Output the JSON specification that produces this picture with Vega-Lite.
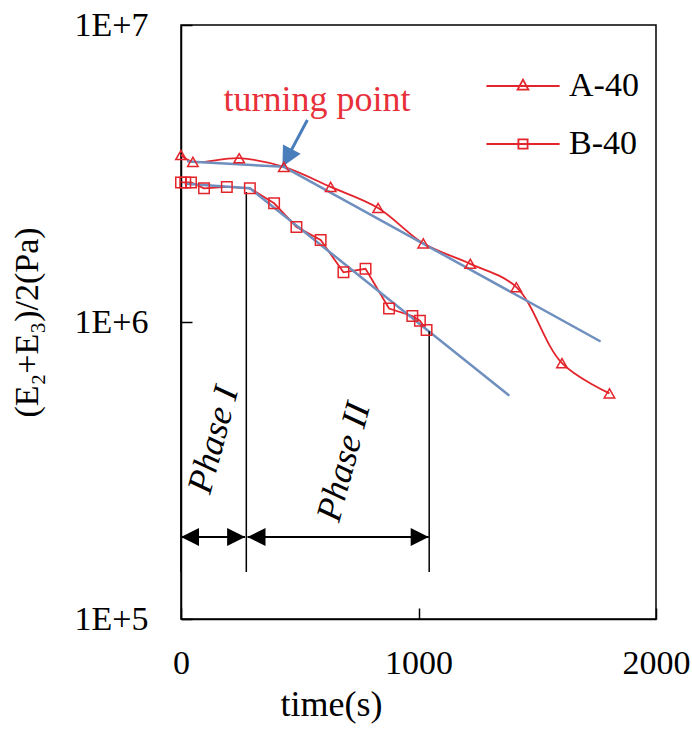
{
  "$schema": "https://vega.github.io/schema/vega-lite/v6.json",
  "width": 475,
  "height": 594,
  "autosize": {"type": "none"},
  "padding": {"left": 181, "top": 25, "right": 36, "bottom": 113},
  "background": "white",
  "config": {
    "view": {"stroke": "black", "strokeWidth": 1.5},
    "font": "Liberation Serif"
  },
  "datasets": {
    "A": [
      {"t": 0, "v": 3650000}, {"t": 50, "v": 3460000}, {"t": 245, "v": 3560000},
      {"t": 433, "v": 3330000}, {"t": 630, "v": 2850000}, {"t": 830, "v": 2420000},
      {"t": 1020, "v": 1840000}, {"t": 1218, "v": 1570000}, {"t": 1412, "v": 1310000},
      {"t": 1604, "v": 727000}, {"t": 1804, "v": 575000}
    ],
    "B": [
      {"t": 0, "v": 2950000}, {"t": 18, "v": 2950000}, {"t": 42, "v": 2950000},
      {"t": 97, "v": 2820000}, {"t": 193, "v": 2850000}, {"t": 290, "v": 2820000},
      {"t": 392, "v": 2510000}, {"t": 486, "v": 2090000}, {"t": 588, "v": 1890000},
      {"t": 684, "v": 1470000}, {"t": 777, "v": 1510000}, {"t": 876, "v": 1110000},
      {"t": 974, "v": 1048000}, {"t": 1006, "v": 1010000}, {"t": 1034, "v": 940000}
    ],
    "trend": [
      {"x1": 30, "y1": 3470000, "x2": 433, "y2": 3330000},
      {"x1": 433, "y1": 3330000, "x2": 1763, "y2": 863000},
      {"x1": 20, "y1": 2920000, "x2": 290, "y2": 2820000},
      {"x1": 290, "y1": 2820000, "x2": 1379, "y2": 568000}
    ],
    "vlines": [
      {"x1": 0, "y1": 144000, "y2": 2950000},
      {"x1": 275, "y1": 144000, "y2": 2740000},
      {"x1": 1045, "y1": 144000, "y2": 930000}
    ],
    "harrows": [
      {"x1": 0, "x2": 270, "y1": 189000},
      {"x1": 280, "x2": 1043, "y1": 189000}
    ],
    "heads": [
      {"t": 0, "v": 189000, "dir": "left"},
      {"t": 270, "v": 189000, "dir": "right"},
      {"t": 280, "v": 189000, "dir": "left"},
      {"t": 1043, "v": 189000, "dir": "right"}
    ],
    "bluearrow": [
      {"x1": 532, "y1": 4786000, "x2": 427, "y2": 3330000}
    ],
    "turning": [
      {"t": 573, "v": 5130000, "label": "turning point"}
    ],
    "phases": [
      {"t": 137, "v": 401000, "label": "Phase I"},
      {"t": 686, "v": 338000, "label": "Phase II"}
    ],
    "legendrows": [
      {"series": "A-40"}, {"series": "B-40"}
    ]
  },
  "layer": [
    {
      "data": {"name": "A"},
      "mark": {"type": "line", "color": "#e3242b", "strokeWidth": 1.8, "interpolate": "catmull-rom"},
      "encoding": {
        "x": {
          "field": "t", "type": "quantitative", "title": "time(s)",
          "scale": {"domain": [0, 2000], "nice": false, "zero": false},
          "axis": {
            "values": [0, 1000, 2000], "format": "d", "grid": false,
            "tickSize": -11, "tickColor": "black", "tickWidth": 1.5,
            "domainColor": "black", "domainWidth": 1.5,
            "labelFont": "Liberation Serif", "labelFontSize": 34, "labelColor": "black",
            "labelPadding": 38, "labelFlush": false, "labelOverlap": false,
            "titleFont": "Liberation Serif", "titleFontSize": 36, "titleFontWeight": "normal",
            "titleColor": "black", "titleX": 150, "titleY": 96, "titleBaseline": "alphabetic"
          }
        },
        "y": {
          "field": "v", "type": "quantitative", "title": "(E₂+E₃)/2(Pa)",
          "scale": {"type": "log", "domain": [100000, 10000000], "nice": false},
          "axis": {
            "values": [100000, 1000000, 10000000],
            "labelExpr": "'1E+' + round(log(datum.value)/LN10)", "grid": false,
            "tickSize": -11, "tickColor": "black", "tickWidth": 1.5,
            "domainColor": "black", "domainWidth": 1.5,
            "labelFont": "Liberation Serif", "labelFontSize": 34, "labelColor": "black",
            "labelPadding": 44, "labelBaseline": "middle", "labelOverlap": false,
            "titleFont": "Liberation Serif", "titleFontSize": 34, "titleFontWeight": "normal",
            "titleColor": "black", "titleX": -154, "titleY": 297, "titleAngle": -90,
            "titleBaseline": "middle", "titleAlign": "center"
          }
        }
      }
    },
    {
      "data": {"name": "B"},
      "mark": {"type": "line", "color": "#e3242b", "strokeWidth": 1.8},
      "encoding": {
        "x": {"field": "t", "type": "quantitative", "title": "time(s)"},
        "y": {"field": "v", "type": "quantitative", "title": "(E₂+E₃)/2(Pa)"}
      }
    },
    {
      "data": {"name": "trend"},
      "mark": {"type": "rule", "color": "#6f8fbf", "strokeWidth": 2.5, "strokeCap": "round"},
      "encoding": {
        "x": {"field": "x1", "type": "quantitative", "title": "time(s)"},
        "x2": {"field": "x2"},
        "y": {"field": "y1", "type": "quantitative", "title": "(E₂+E₃)/2(Pa)"},
        "y2": {"field": "y2"}
      }
    },
    {
      "data": {"name": "vlines"},
      "mark": {"type": "rule", "color": "black", "strokeWidth": 1.5},
      "encoding": {
        "x": {"field": "x1", "type": "quantitative", "title": "time(s)"},
        "y": {"field": "y1", "type": "quantitative", "title": "(E₂+E₃)/2(Pa)"},
        "y2": {"field": "y2"}
      }
    },
    {
      "data": {"name": "harrows"},
      "mark": {"type": "rule", "color": "black", "strokeWidth": 2},
      "encoding": {
        "x": {"field": "x1", "type": "quantitative", "title": "time(s)"},
        "x2": {"field": "x2"},
        "y": {"field": "y1", "type": "quantitative", "title": "(E₂+E₃)/2(Pa)"}
      }
    },
    {
      "data": {"name": "heads"},
      "transform": [{"filter": "datum.dir == 'left'"}],
      "mark": {"type": "point", "shape": "M0,0L2,-1L2,1Z", "filled": true, "color": "black", "size": 324, "opacity": 1},
      "encoding": {
        "x": {"field": "t", "type": "quantitative", "title": "time(s)"},
        "y": {"field": "v", "type": "quantitative", "title": "(E₂+E₃)/2(Pa)"}
      }
    },
    {
      "data": {"name": "heads"},
      "transform": [{"filter": "datum.dir == 'right'"}],
      "mark": {"type": "point", "shape": "M0,0L-2,-1L-2,1Z", "filled": true, "color": "black", "size": 324, "opacity": 1},
      "encoding": {
        "x": {"field": "t", "type": "quantitative", "title": "time(s)"},
        "y": {"field": "v", "type": "quantitative", "title": "(E₂+E₃)/2(Pa)"}
      }
    },
    {
      "data": {"name": "bluearrow"},
      "mark": {"type": "rule", "color": "#4a7dbb", "strokeWidth": 3},
      "encoding": {
        "x": {"field": "x1", "type": "quantitative", "title": "time(s)"},
        "x2": {"field": "x2"},
        "y": {"field": "y1", "type": "quantitative", "title": "(E₂+E₃)/2(Pa)"},
        "y2": {"field": "y2"}
      }
    },
    {
      "data": {"name": "bluearrow"},
      "mark": {"type": "point", "shape": "M0,0L-2,-1L-2,1Z", "filled": true, "color": "#4a7dbb", "size": 400, "angle": 118, "opacity": 1},
      "encoding": {
        "x": {"field": "x2", "type": "quantitative", "title": "time(s)"},
        "y": {"field": "y2", "type": "quantitative", "title": "(E₂+E₃)/2(Pa)"}
      }
    },
    {
      "data": {"name": "turning"},
      "mark": {"type": "text", "font": "Liberation Serif", "fontSize": 36, "color": "#e8303a", "align": "center", "baseline": "alphabetic"},
      "encoding": {
        "x": {"field": "t", "type": "quantitative", "title": "time(s)"},
        "y": {"field": "v", "type": "quantitative", "title": "(E₂+E₃)/2(Pa)"},
        "text": {"field": "label"}
      }
    },
    {
      "data": {"name": "phases"},
      "mark": {"type": "text", "font": "Liberation Serif", "fontSize": 36, "fontStyle": "italic", "color": "black", "align": "center", "baseline": "middle", "angle": -75},
      "encoding": {
        "x": {"field": "t", "type": "quantitative", "title": "time(s)"},
        "y": {"field": "v", "type": "quantitative", "title": "(E₂+E₃)/2(Pa)"},
        "text": {"field": "label"}
      }
    },
    {
      "data": {"name": "A"},
      "mark": {"type": "point", "shape": "triangle-up", "filled": false, "color": "#e3242b", "size": 110, "strokeWidth": 1.5, "opacity": 1},
      "encoding": {
        "x": {"field": "t", "type": "quantitative", "title": "time(s)"},
        "y": {"field": "v", "type": "quantitative", "title": "(E₂+E₃)/2(Pa)"}
      }
    },
    {
      "data": {"name": "B"},
      "mark": {"type": "point", "shape": "square", "filled": false, "color": "#e3242b", "size": 110, "strokeWidth": 1.5, "opacity": 1},
      "encoding": {
        "x": {"field": "t", "type": "quantitative", "title": "time(s)"},
        "y": {"field": "v", "type": "quantitative", "title": "(E₂+E₃)/2(Pa)"}
      }
    },
    {
      "data": {"name": "legendrows"},
      "transform": [{"filter": "false"}],
      "mark": {"type": "point", "filled": false, "color": "#e3242b", "strokeWidth": 1.5},
      "encoding": {
        "shape": {
          "field": "series", "type": "nominal",
          "scale": {
            "domain": ["A-40", "B-40"],
            "range": ["M-1.83,0H1.83M0,-0.32L0.27,0.18H-0.27Z", "M-1.83,0H1.83M-0.23,-0.23H0.23V0.23H-0.23Z"]
          },
          "legend": {
            "title": null, "orient": "none", "legendX": 321, "legendY": 40,
            "symbolSize": 1600, "symbolStrokeWidth": 1.8, "symbolStrokeColor": "#e3242b",
            "symbolFillColor": "transparent", "symbolOpacity": 1,
            "labelFont": "Liberation Serif", "labelFontSize": 34, "labelColor": "black",
            "labelOffset": 25, "rowPadding": 20, "padding": 0
          }
        }
      }
    }
  ]
}
